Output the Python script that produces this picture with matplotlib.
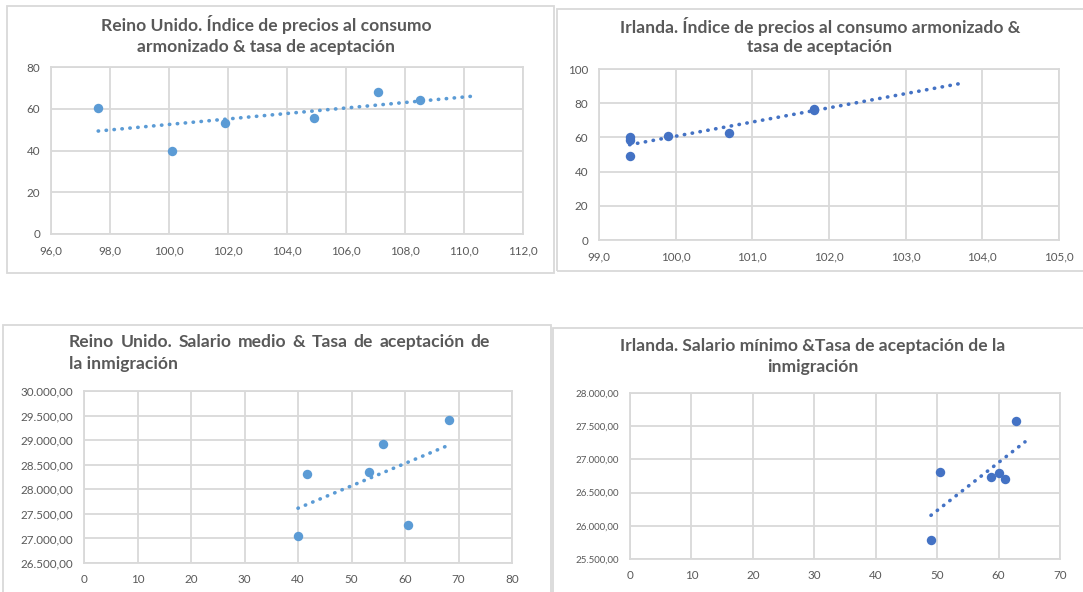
import matplotlib
matplotlib.use("Agg")
import matplotlib.pyplot as plt
import numpy as np
from matplotlib.patches import Rectangle

W, H = 1083, 592

# --- data ---
UK_HICP = [97.6, 100.1, 101.9, 104.9, 107.1, 108.5]
UK_HICP_ACCEPT = [60.5, 39.8, 53.3, 55.6, 68.1, 64.0]

IE_HICP = [99.4, 99.4, 99.4, 99.9, 100.7, 101.8, 101.8]
IE_HICP_ACCEPT = [49.1, 60.4, 58.5, 61.0, 62.7, 76.9, 76.2]

UK_WAGE_ACCEPT = [40.0, 41.6, 53.3, 55.8, 60.6, 68.2]
UK_WAGE = [27047, 28311, 28351, 28919, 27270, 29412]

IE_MINWAGE_ACCEPT = [49.0, 50.5, 58.7, 60.0, 61.1, 62.8]
IE_MINWAGE = [25780, 26810, 26740, 26800, 26710, 27585]

# Excel "forecast forward" end of each trendline
UK_HICP_TREND_END = 110.3
IE_HICP_TREND_END = 103.7
UK_WAGE_TREND_END = 68.2
IE_MINWAGE_TREND_END = 64.3

UK_HICP_XTICKS = [96, 98, 100, 102, 104, 106, 108, 110, 112]
UK_HICP_XLABELS = ["96,0", "98,0", "100,0", "102,0", "104,0", "106,0", "108,0", "110,0", "112,0"]
IE_HICP_XTICKS = [99, 100, 101, 102, 103, 104, 105]
IE_HICP_XLABELS = ["99,0", "100,0", "101,0", "102,0", "103,0", "104,0", "105,0"]
UK_HICP_YTICKS = [0, 20, 40, 60, 80]
IE_HICP_YTICKS = [0, 20, 40, 60, 80, 100]

UK_WAGE_XTICKS = [0, 10, 20, 30, 40, 50, 60, 70, 80]
UK_WAGE_YTICKS = [26500, 27000, 27500, 28000, 28500, 29000, 29500, 30000]
UK_WAGE_YLABELS = ["26.500,00", "27.000,00", "27.500,00", "28.000,00",
                   "28.500,00", "29.000,00", "29.500,00", "30.000,00"]
IE_MINWAGE_XTICKS = [0, 10, 20, 30, 40, 50, 60, 70]
IE_MINWAGE_YTICKS = [25500, 26000, 26500, 27000, 27500, 28000]
IE_MINWAGE_YLABELS = ["25.500,00", "26.000,00", "26.500,00",
                      "27.000,00", "27.500,00", "28.000,00"]

GRID = "#d9d9d9"
TXT = "#595959"
BLUE_LIGHT = "#5b9bd5"
BLUE_DARK = "#4472c4"
FONT = ["Lato", "DejaVu Sans"]
TITLE_SIZE = 12.6

plt.rcParams["font.family"] = FONT

fig = plt.figure(figsize=(W / 100, H / 100), dpi=100)


def box(x0, y0, x1, y1):
    fig.add_artist(Rectangle((x0 / W, 1 - y1 / H), (x1 - x0) / W, (y1 - y0) / H,
                             transform=fig.transFigure, fill=False,
                             ec=GRID, lw=1.3, zorder=0))


def panel(rect, x, y, color, xlim, ylim, xticks, xlabels, yticks, ylabels,
          trend_end, ysize=8.4):
    l, t, r, b = rect
    ax = fig.add_axes([l / W, 1 - b / H, (r - l) / W, (b - t) / H])
    ax.plot(x, y, "o", color=color, ms=6.8, mec="none", zorder=3)
    coef = np.polyfit(x, y, 1)
    xs = np.array([min(x), trend_end])
    ax.plot(xs, np.polyval(coef, xs), color=color, lw=2.6,
            linestyle=(0, (0.1, 2.1)), dash_capstyle="round", zorder=4)
    ax.set_xlim(*xlim)
    ax.set_ylim(*ylim)
    ax.set_xticks(xticks, xlabels)
    ax.set_yticks(yticks, ylabels)
    ax.grid(True, color=GRID, lw=1.3)
    ax.set_axisbelow(True)
    for s in ax.spines.values():
        s.set_color(GRID)
        s.set_linewidth(1.3)
    ax.tick_params(length=0, colors=TXT, pad=8)
    ax.tick_params(axis="x", labelsize=8.4)
    ax.tick_params(axis="y", labelsize=ysize)
    return ax


def title(lines, cx, ys):
    for s, yy in zip(lines, ys):
        fig.text(cx / W, 1 - yy / H, s, ha="center", va="center",
                 fontsize=TITLE_SIZE, fontweight="bold", color=TXT)


def justified(words, x0, x1, yy):
    texts = [fig.text(0, 1 - yy / H, w, ha="left", va="center", fontsize=TITLE_SIZE,
                      fontweight="bold", color=TXT) for w in words]
    fig.canvas.draw()
    rend = fig.canvas.get_renderer()
    widths = [t.get_window_extent(rend).width for t in texts]
    gap = (x1 - x0 - sum(widths)) / (len(words) - 1)
    pos = x0
    for t, w in zip(texts, widths):
        t.set_x(pos / W)
        pos += w + gap


# chart frames
box(7, 6, 554, 273)
box(557, 9, 1095, 271)
box(3, 325, 551, 600)
box(553, 328, 1095, 600)

panel((51, 67, 523, 234), UK_HICP, UK_HICP_ACCEPT, BLUE_LIGHT, (96, 112), (0, 80),
      UK_HICP_XTICKS, UK_HICP_XLABELS, UK_HICP_YTICKS,
      [str(v) for v in UK_HICP_YTICKS], UK_HICP_TREND_END)
title(["Reino Unido. Índice de precios al consumo",
       "armonizado & tasa de aceptación"], 266, (25, 47))

panel((599, 69, 1059, 240), IE_HICP, IE_HICP_ACCEPT, BLUE_DARK, (99, 105), (0, 100),
      IE_HICP_XTICKS, IE_HICP_XLABELS, IE_HICP_YTICKS,
      [str(v) for v in IE_HICP_YTICKS], IE_HICP_TREND_END)
title(["Irlanda. Índice de precios al consumo armonizado &",
       "tasa de aceptación"], 820, (26, 47))

panel((84, 391, 512, 563), UK_WAGE_ACCEPT, UK_WAGE, BLUE_LIGHT, (0, 80), (26500, 30000),
      UK_WAGE_XTICKS, [str(v) for v in UK_WAGE_XTICKS], UK_WAGE_YTICKS,
      UK_WAGE_YLABELS, UK_WAGE_TREND_END)

panel((630, 393, 1060, 559), IE_MINWAGE_ACCEPT, IE_MINWAGE, BLUE_DARK, (0, 70), (25500, 28000),
      IE_MINWAGE_XTICKS, [str(v) for v in IE_MINWAGE_XTICKS], IE_MINWAGE_YTICKS,
      IE_MINWAGE_YLABELS, IE_MINWAGE_TREND_END, ysize=7.0)
title(["Irlanda. Salario mínimo &Tasa de aceptación de la",
       "inmigración"], 813, (346, 367))

justified("Reino Unido. Salario medio & Tasa de aceptación de".split(), 69, 490, 342)
fig.text(69 / W, 1 - 364 / H, "la inmigración", ha="left", va="center",
         fontsize=TITLE_SIZE, fontweight="bold", color=TXT)

fig.savefig("out.png", dpi=100)
